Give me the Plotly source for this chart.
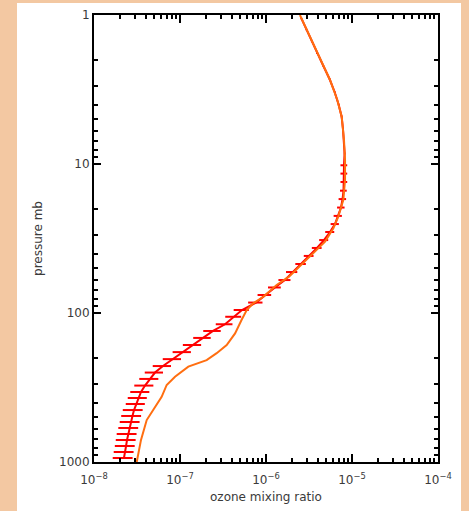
import plotly.graph_objects as go

# Model ozone profile (orange line): pressure (mb) and mixing ratio
model_pressure = [1.0, 1.40, 2.0, 2.73, 3.72, 4.82, 6.90, 9.40, 12.8, 17.4, 22.6, 27.0,
                  33.2, 39.7, 48.9, 57.0, 64.9, 77.8, 86.1, 95.5, 111, 137, 164, 186,
                  207, 229, 268, 304, 365, 523, 711, 1000]
model_ozone = [2.48e-6, 3.25e-6, 4.25e-6, 5.55e-6, 6.75e-6, 7.59e-6, 8.07e-6, 8.30e-6,
               8.30e-6, 7.93e-6, 6.93e-6, 6.07e-6, 4.86e-6, 3.55e-6, 2.48e-6, 1.85e-6,
               1.33e-6, 9.31e-7, 7.11e-7, 5.97e-7, 5.21e-7, 4.37e-7, 3.49e-7, 2.67e-7,
               2.04e-7, 1.25e-7, 8.75e-8, 7.0e-8, 6.12e-8, 4.1e-8, 3.52e-8, 3.14e-8]

# Measured ozone profile (red line with horizontal error bars)
obs_pressure = [1.05, 1.25, 1.5, 1.8, 2.2, 2.7, 3.3, 4.0, 4.8, 5.8, 7.0, 8.5,
                10.2, 11.6, 13.2, 15.1, 17.2, 19.6, 22.3, 25.3, 28.6, 32.4, 36.6, 41.4,
                46.9, 53.1, 60.1, 67.4, 75.7, 85.1, 95.5, 106, 119, 132, 147, 164,
                183, 204, 227, 251, 277, 307, 339, 372, 408, 448, 491, 539,
                591, 649, 712, 781, 857, 940]
obs_ozone = [2.57e-6, 2.95e-6, 3.4e-6, 3.9e-6, 4.65e-6, 5.5e-6, 6.3e-6, 7.0e-6,
             7.57e-6, 7.85e-6, 8.1e-6, 8.2e-6,
             8.07e-6, 8.07e-6, 8.07e-6, 7.97e-6, 7.76e-6, 7.45e-6, 6.87e-6, 6.34e-6,
             5.55e-6, 4.72e-6, 3.92e-6, 3.16e-6, 2.55e-6, 2.01e-6, 1.66e-6, 1.27e-6,
             9.73e-7, 7.65e-7, 5.26e-7, 4.25e-7, 3.34e-7, 2.42e-7, 1.85e-7, 1.42e-7,
             1.08e-7, 8.29e-8, 6.34e-8, 5.12e-8, 4.48e-8, 3.92e-8, 3.52e-8, 3.29e-8,
             3.12e-8, 2.92e-8, 2.80e-8, 2.69e-8, 2.59e-8, 2.48e-8, 2.42e-8, 2.36e-8,
             2.29e-8, 2.23e-8]
# relative (fractional) uncertainty of each measurement
obs_rel_err = [0.02, 0.02, 0.02, 0.02, 0.02, 0.02, 0.02, 0.02, 0.02, 0.02, 0.02, 0.02,
               0.09, 0.09, 0.09, 0.09, 0.10, 0.10, 0.11, 0.11, 0.12, 0.12, 0.13, 0.13,
               0.14, 0.15, 0.16, 0.17, 0.18, 0.19, 0.20, 0.21, 0.22, 0.23, 0.23, 0.24,
               0.24, 0.24, 0.24, 0.24, 0.25, 0.25, 0.25, 0.25, 0.25, 0.26, 0.26, 0.26,
               0.26, 0.26, 0.26, 0.26, 0.26, 0.26]

x_tickvals = [1e-8, 1e-7, 1e-6, 1e-5, 1e-4]
x_ticktext = ["10<sup>\u22128</sup>", "10<sup>\u22127</sup>", "10<sup>\u22126</sup>",
              "10<sup>\u22125</sup>", "10<sup>\u22124</sup>"]
y_tickvals = [1, 10, 100, 1000]
y_ticktext = ["1", "10", "100", "1000"]

obs_err = [v * e for v, e in zip(obs_ozone, obs_rel_err)]

minor_x = [m * 10.0 ** d for d in range(-8, -4) for m in range(2, 10)]
minor_y = [m * 10.0 ** d for d in range(0, 3) for m in range(2, 10)]

fig = go.Figure()
fig.add_trace(go.Scatter(
    x=obs_ozone, y=obs_pressure, mode="lines",
    line=dict(color="#FF0000", width=2),
    error_x=dict(type="data", array=obs_err, visible=True, color="#FF0000",
                 thickness=2, width=0),
    showlegend=False, hoverinfo="skip"))
fig.add_trace(go.Scatter(
    x=model_ozone, y=model_pressure, mode="lines",
    line=dict(color="#FF6E10", width=2),
    showlegend=False, hoverinfo="skip"))

FONT = "DejaVu Sans, Verdana, sans-serif"
GREY = "#3a3a3a"
PEACH = "#F3C8A2"

W, H = 469, 511
L, T = 94, 15
PW, PH = 344, 447
fig.update_layout(
    width=W, height=H,
    margin=dict(l=L, r=W - L - PW, t=T, b=H - T - PH, autoexpand=False),
    paper_bgcolor=PEACH,
    plot_bgcolor="white",
    font=dict(family=FONT, size=12, color=GREY),
    shapes=[dict(type="rect", xref="paper", yref="paper",
                 x0=(17 - L) / PW, x1=(461 - L) / PW,
                 y0=-0.3, y1=1 + (T - 3) / PH,
                 fillcolor="white", line=dict(width=0), layer="below")],
)
fig.update_xaxes(
    type="log", range=[-8, -4], showgrid=False, zeroline=False, automargin=False,
    showline=True, linecolor="black", linewidth=2, mirror="ticks",
    ticks="inside", ticklen=8, tickwidth=2, tickcolor="black",
    tickvals=x_tickvals, ticktext=x_ticktext, ticklabelstandoff=6,
    tickfont=dict(family=FONT, size=12, color=GREY),
    minor=dict(ticks="inside", ticklen=4, tickwidth=2, tickcolor="black",
               tickvals=minor_x, showgrid=False),
    title=dict(text="ozone mixing ratio", standoff=6,
               font=dict(family=FONT, size=12, color=GREY)),
)
fig.update_yaxes(
    type="log", range=[3, 0], showgrid=False, zeroline=False, automargin=False,
    showline=True, linecolor="black", linewidth=2, mirror="ticks",
    ticks="inside", ticklen=7, tickwidth=2, tickcolor="black",
    tickvals=y_tickvals, ticktext=y_ticktext,
    tickfont=dict(family=FONT, size=12, color=GREY),
    minor=dict(ticks="inside", ticklen=4, tickwidth=2, tickcolor="black",
               tickvals=minor_y, showgrid=False),
    title=dict(text="pressure mb", standoff=14,
               font=dict(family=FONT, size=12, color=GREY)),
)

fig.write_html(
    "out.html",
    config={"displayModeBar": False},
    post_script="document.body.style.margin='0';"
                "document.body.style.background='" + PEACH + "';",
)
